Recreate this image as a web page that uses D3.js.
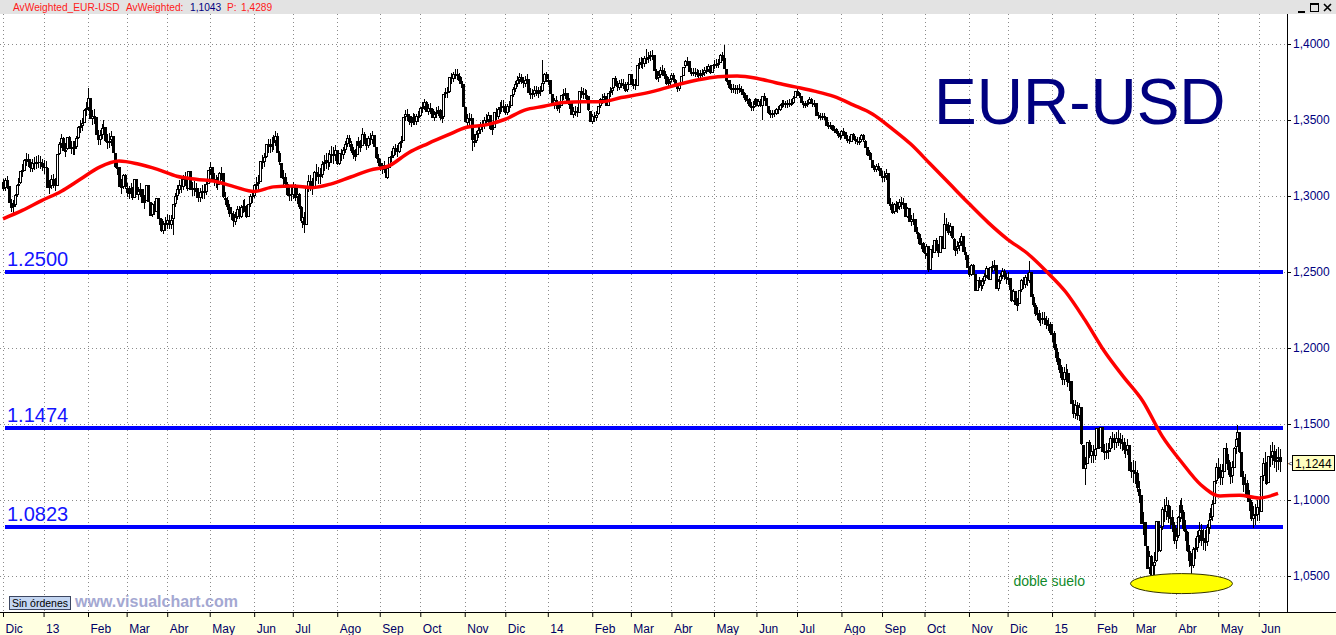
<!DOCTYPE html>
<html>
<head>
<meta charset="utf-8">
<script src="https://cdn.jsdelivr.net/npm/d3@7"></script>
<style>
  body { margin: 0; background: #fff; overflow: hidden; }
  svg { display: block; font-family: "Liberation Sans", Arial, sans-serif; }
</style>
</head>
<body>
<svg id="chart" width="1336" height="635"></svg>
<script>
// first trading day shown, every weekday afterwards is one bar
const firstDay = '2012-12-03';
const firstOpen = 1.3095;

// daily closes, one row per month
const closes = [
  1.3050,1.3105,1.3068,1.2955,1.2925,1.2940,1.3005,1.3070,1.3082,1.3162,1.3168,1.3240,1.3245,1.3222,1.3183,1.3220,1.3212,1.3226,1.3222,1.3216,1.3192,
  1.3190,1.3185,1.3052,1.3068,1.3115,1.3082,1.3070,1.3278,1.3345,1.3382,1.3298,1.3305,1.3385,1.3318,1.3322,1.3312,1.3322,1.3380,1.3455,1.3460,1.3482,1.3568,1.3578,
  1.3645,1.3510,1.3528,1.3518,1.3402,1.3366,1.3402,1.3448,1.3452,1.3358,1.3362,1.3365,1.3392,1.3282,1.3188,1.3192,1.3062,1.3058,1.3135,1.3055,
  1.3020,1.3025,1.3050,1.2985,1.3110,1.3005,1.3030,1.3045,1.2955,1.2970,1.3075,1.2960,1.2870,1.2945,1.2895,1.2990,1.2855,1.2850,1.2770,1.2815,1.2820,
  1.2845,1.2815,1.2845,1.2945,1.3000,1.3045,1.3075,1.3065,1.3115,1.3110,1.3045,1.3165,1.3040,1.3050,1.3050,1.3025,1.2985,1.3025,1.3030,1.3030,1.3080,1.3170,
  1.3190,1.3110,1.3110,1.3085,1.3075,1.3150,1.3150,1.2990,1.2975,1.2930,1.2885,1.2880,1.2835,1.2865,1.2915,1.2865,1.2930,1.2935,1.2935,1.2860,1.2945,1.3000,1.2995,
  1.3070,1.3080,1.3095,1.3230,1.3220,1.3255,1.3340,1.3320,1.3335,1.3345,1.3360,1.3395,1.3280,1.3220,1.3120,1.3125,1.3080,1.3010,1.3015,1.3010,
  1.3060,1.2990,1.3010,1.2925,1.2830,1.2865,1.2810,1.3060,1.3100,1.3070,1.3055,1.3160,1.3145,1.3125,1.3140,1.3210,1.3225,1.3235,1.3215,1.3275,1.3270,1.3265,1.3300,
  1.3205,1.3280,1.3265,1.3300,1.3340,1.3380,1.3345,1.3300,1.3265,1.3270,1.3365,1.3330,1.3330,1.3410,1.3355,1.3330,1.3380,1.3370,1.3400,1.3320,1.3250,1.3220,
  1.3190,1.3175,1.3205,1.3120,1.3185,1.3255,1.3265,1.3315,1.3300,1.3290,1.3350,1.3360,1.3520,1.3540,1.3525,1.3485,1.3495,1.3520,1.3485,1.3525,1.3525,
  1.3580,1.3585,1.3620,1.3555,1.3580,1.3575,1.3515,1.3540,1.3555,1.3565,1.3510,1.3520,1.3670,1.3685,1.3680,1.3780,1.3765,1.3800,1.3805,1.3790,1.3755,1.3735,1.3585,
  1.3485,1.3515,1.3495,1.3510,1.3365,1.3365,1.3410,1.3435,1.3460,1.3465,1.3500,1.3500,1.3530,1.3435,1.3450,1.3555,1.3520,1.3575,1.3585,1.3595,1.3590,
  1.3545,1.3590,1.3590,1.3665,1.3705,1.3740,1.3765,1.3785,1.3755,1.3740,1.3765,1.3770,1.3680,1.3665,1.3675,1.3700,1.3680,1.3685,1.3695,1.3745,1.3800,1.3765,
  1.3765,1.3670,1.3590,1.3630,1.3615,1.3575,1.3590,1.3665,1.3670,1.3675,1.3605,1.3615,1.3535,1.3560,1.3560,1.3545,1.3690,1.3675,1.3675,1.3665,1.3655,1.3560,1.3485,
  1.3525,1.3515,1.3535,1.3590,1.3635,1.3640,1.3655,1.3590,1.3675,1.3690,1.3710,1.3775,1.3735,1.3715,1.3745,1.3735,1.3740,1.3695,1.3735,1.3805,
  1.3735,1.3740,1.3730,1.3865,1.3875,1.3880,1.3865,1.3905,1.3905,1.3915,1.3925,1.3930,1.3825,1.3775,1.3795,1.3830,1.3825,1.3790,1.3740,1.3750,1.3770,
  1.3795,1.3765,1.3720,1.3705,1.3730,1.3790,1.3850,1.3885,1.3885,1.3815,1.3815,1.3815,1.3810,1.3810,1.3795,1.3805,1.3810,1.3830,1.3830,1.3855,1.3810,1.3865,
  1.3870,1.3870,1.3875,1.3930,1.3910,1.3835,1.3755,1.3760,1.3705,1.3710,1.3710,1.3695,1.3710,1.3705,1.3685,1.3665,1.3630,1.3635,1.3590,1.3590,1.3595,1.3635,
  1.3595,1.3625,1.3595,1.3660,1.3645,1.3590,1.3545,1.3535,1.3545,1.3540,1.3570,1.3565,1.3600,1.3610,1.3605,1.3600,1.3610,1.3615,1.3615,1.3645,1.3690,
  1.3675,1.3655,1.3610,1.3595,1.3605,1.3615,1.3640,1.3610,1.3605,1.3615,1.3530,1.3525,1.3525,1.3525,1.3520,1.3460,1.3465,1.3465,1.3430,1.3440,1.3415,1.3395,1.3390,
  1.3425,1.3420,1.3375,1.3375,1.3360,1.3410,1.3375,1.3365,1.3360,1.3365,1.3400,1.3365,1.3320,1.3265,1.3285,1.3240,1.3190,1.3170,1.3195,1.3185,1.3130,
  1.3130,1.3130,1.3150,1.2945,1.2950,1.2890,1.2945,1.2920,1.2925,1.2960,1.2950,1.2955,1.2860,1.2920,1.2830,1.2850,1.2850,1.2765,1.2750,1.2685,1.2690,1.2630,
  1.2620,1.2670,1.2515,1.2650,1.2625,1.2710,1.2655,1.2625,1.2735,1.2650,1.2815,1.2810,1.2760,1.2800,1.2720,1.2645,1.2650,1.2670,1.2695,1.2735,1.2630,1.2610,1.2525,
  1.2480,1.2545,1.2485,1.2375,1.2450,1.2415,1.2410,1.2440,1.2475,1.2525,1.2450,1.2535,1.2540,1.2545,1.2390,1.2440,1.2475,1.2505,1.2465,1.2450,
  1.2460,1.2380,1.2310,1.2375,1.2285,1.2290,1.2380,1.2445,1.2410,1.2465,1.2440,1.2500,1.2335,1.2285,1.2225,1.2230,1.2180,1.2195,1.2200,1.2185,1.2155,1.2160,1.2100,
  1.2100,1.2000,1.1935,1.1890,1.1840,1.1790,1.1840,1.1835,1.1775,1.1780,1.1630,1.1565,1.1625,1.1550,1.1610,1.1365,1.1205,1.1235,1.1380,1.1290,1.1320,1.1290,
  1.1335,1.1475,1.1340,1.1480,1.1315,1.1320,1.1320,1.1330,1.1405,1.1385,1.1375,1.1410,1.1400,1.1375,1.1380,1.1325,1.1335,1.1365,1.1195,1.1195,
  1.1185,1.1175,1.1075,1.1030,1.0840,1.0855,1.0700,1.0550,1.0630,1.0495,1.0570,1.0595,1.0860,1.0660,1.0820,1.0940,1.0920,1.0965,1.0885,1.0890,1.0835,1.0730,
  1.0760,1.0885,1.0970,1.0920,1.0810,1.0790,1.0665,1.0600,1.0565,1.0680,1.0685,1.0765,1.0805,1.0735,1.0750,1.0720,1.0820,1.0870,1.0890,1.0975,1.1125,1.1220,
  1.1195,1.1145,1.1190,1.1345,1.1265,1.1200,1.1155,1.1215,1.1345,1.1400,1.1445,1.1315,1.1150,1.1095,1.1110,1.1010,1.0985,1.0875,1.0900,1.0905,1.0955,
  1.0925,1.1160,1.1245,1.1240,1.1110,1.1290,1.1290,1.1320,1.1255,1.1265,1.1280,1.1244
];

// typical daily high-low range of each month (wick length)
const monthRanges = [0.0085,0.0090,0.0100,0.0090,0.0095,0.0085,0.0095,0.0110,0.0080,0.0075,0.0070,0.0080,
  0.0070,0.0070,0.0065,0.0070,0.0055,0.0060,0.0050,0.0045,0.0050,0.0075,0.0085,0.0075,
  0.0085,0.0120,0.0105,0.0150,0.0140,0.0140,0.0150];

// long wicks that stand out
const spikeDates = ['2013-02-01','2013-04-04','2013-05-17','2013-06-19','2013-07-09','2013-08-20','2013-10-25',
  '2013-11-07','2013-12-27','2014-02-03','2014-03-13','2014-05-08','2014-06-05','2014-10-03','2014-10-15',
  '2014-12-16','2015-01-26','2015-03-16','2015-04-13','2015-05-15','2015-05-27'];
const spikeValues = [1.3711,1.2745,1.2795,1.3415,1.2755,1.3450,1.3832,1.3295,1.3893,1.3477,1.3967,1.3993,1.3503,
  1.2500,1.2885,1.2570,1.1098,1.0462,1.0520,1.1467,1.0819];

// weighted average, one reading every 10 bars
const maStep = 10;
const maValues = [
  1.2850,1.2905,1.2970,1.3030,1.3110,1.3190,1.3230,1.3210,1.3175,1.3130,1.3110,1.3095,1.3060,1.3030,1.3060,1.3066,1.3055,
  1.3080,1.3125,1.3170,1.3200,1.3285,1.3345,1.3400,1.3452,1.3468,1.3505,1.3565,1.3590,1.3615,1.3620,1.3620,1.3648,
  1.3670,1.3700,1.3735,1.3765,1.3785,1.3790,1.3775,1.3745,1.3718,1.3690,1.3655,1.3600,1.3540,1.3445,1.3340,1.3210,
  1.3080,1.2950,1.2825,1.2715,1.2625,1.2505,1.2370,1.2185,1.1980,1.1810,1.1650,1.1420,1.1250,1.1100,1.1026,1.1032,
  1.1013,1.1043
];

const levels = [1.2500, 1.1474, 1.0823];
const levelLabels = ['1.2500', '1.1474', '1.0823'];
const priceTicks = [1.05, 1.10, 1.15, 1.20, 1.25, 1.30, 1.35, 1.40];
const monthLabels = ['Dic','13','Feb','Mar','Abr','May','Jun','Jul','Ago','Sep','Oct','Nov',
  'Dic','14','Feb','Mar','Abr','May','Jun','Jul','Ago','Sep','Oct','Nov',
  'Dic','15','Feb','Mar','Abr','May','Jun'];
const lastPrice = 1.1244;
const avgValue = 1.1043;
const pValue = 1.4289;
const noteDate = '2014-12-04', noteValue = 1.0434;
const circleDate = '2015-04-06', circleValue = 1.0450;

const W = 1336, H = 635;
const plotRight = 1287, plotTop = 14, plotBottom = 612;

const svg = d3.select('#chart');
const es = d3.formatLocale({ decimal: ',', thousands: '.', grouping: [3], currency: ['', ''] });
const fmt4 = es.format('.4f');
const dayKey = d3.timeFormat('%Y-%m-%d');

// trading days (weekdays)
const start = d3.timeParse('%Y-%m-%d')(firstDay);
const dates = d3.timeDays(start, d3.timeDay.offset(start, 1200))
  .filter(d => d.getDay() !== 0 && d.getDay() !== 6)
  .slice(0, closes.length);
const indexOf = new Map(dates.map((d, i) => [dayKey(d), i]));
const monthStarts = dates.map((d, i) => i).filter(i => i === 0 || dates[i].getMonth() !== dates[i - 1].getMonth());
const monthOfBar = dates.map((d, i) => d3.bisectRight(monthStarts, i) - 1);

const x = d3.scaleLinear().domain([0, closes.length - 1]).range([3, 1280]);
const y = d3.scaleLinear().domain([1.05, 1.40]).range([576, 44]);

// backgrounds
svg.append('rect').attr('width', W).attr('height', H).attr('fill', '#fff');
svg.append('rect').attr('width', W).attr('height', plotTop).attr('fill', '#e3e3e3');
svg.append('rect').attr('x', 0).attr('y', plotBottom).attr('width', W).attr('height', H - plotBottom).attr('fill', '#ffffe1');

svg.append('defs').append('clipPath').attr('id', 'plot')
  .append('rect').attr('x', 0).attr('y', plotTop).attr('width', plotRight).attr('height', plotBottom - plotTop);

const plot = svg.append('g').attr('clip-path', 'url(#plot)');

// dotted grid
plot.append('g').selectAll('line').data(priceTicks).join('line')
  .attr('x1', 0).attr('x2', plotRight)
  .attr('y1', d => Math.round(y(d)) + 0.5).attr('y2', d => Math.round(y(d)) + 0.5)
  .attr('stroke', '#8a8a8a').attr('stroke-dasharray', '1,3');
plot.append('g').selectAll('line').data(monthStarts).join('line')
  .attr('x1', d => Math.round(x(d)) + 0.5).attr('x2', d => Math.round(x(d)) + 0.5)
  .attr('y1', plotTop).attr('y2', plotBottom)
  .attr('stroke', '#8a8a8a').attr('stroke-dasharray', '1,3');

// support / resistance levels
plot.append('g').selectAll('line').data(levels).join('line')
  .attr('x1', 5).attr('x2', 1283)
  .attr('y1', d => y(d)).attr('y2', d => y(d))
  .attr('stroke', '#0000ff').attr('stroke-width', 4);
plot.append('g').selectAll('text').data(levels).join('text')
  .attr('x', 7).attr('y', d => y(d) - 6)
  .attr('font-size', 20).attr('fill', '#1414ff')
  .text((d, i) => levelLabels[i]);

// candles
const bars = closes.map((c, i) => {
  const o = i ? closes[i - 1] : firstOpen;
  const mid = (o + c) / 2, r = monthRanges[monthOfBar[i]] / 2;
  return { i, o, c, hi: Math.max(o, c, mid + r), lo: Math.min(o, c, mid - r) };
});
spikeDates.forEach((s, k) => {
  const b = bars[indexOf.get(s)];
  if (!b) return;
  if (spikeValues[k] > b.hi) b.hi = spikeValues[k];
  if (spikeValues[k] < b.lo) b.lo = spikeValues[k];
});
const cg = plot.append('g').attr('shape-rendering', 'crispEdges');
cg.selectAll('line').data(bars).join('line')
  .attr('x1', b => Math.round(x(b.i)) + 0.5).attr('x2', b => Math.round(x(b.i)) + 0.5)
  .attr('y1', b => y(b.hi)).attr('y2', b => y(b.lo))
  .attr('stroke', '#000');
bars.forEach(b => {
  const X = Math.round(x(b.i));
  const top = Math.round(y(Math.max(b.o, b.c)));
  const h = Math.max(1, Math.round(Math.abs(y(b.o) - y(b.c))));
  if (b.c >= b.o) {
    cg.append('rect').attr('x', X - 0.5).attr('y', top + 0.5)
      .attr('width', 2).attr('height', Math.max(1, h - 1))
      .attr('fill', '#fff').attr('stroke', '#000');
  } else {
    cg.append('rect').attr('x', X - 1).attr('y', top)
      .attr('width', 3).attr('height', h).attr('fill', '#000');
  }
});

// weighted moving average
const ma = d3.line()
  .x((d, k) => x(k * maStep))
  .y(d => y(d))
  .curve(d3.curveMonotoneX);
plot.append('path').datum(maValues)
  .attr('d', ma).attr('fill', 'none')
  .attr('stroke', '#ff0000').attr('stroke-width', 3.5).attr('stroke-linejoin', 'round');

// title
plot.append('text').attr('x', 934).attr('y', 124)
  .attr('font-size', 64).attr('fill', '#000080').text('EUR-USD');

// double bottom note
const ci = indexOf.get(circleDate);
plot.append('ellipse').attr('cx', x(ci)).attr('cy', y(circleValue))
  .attr('rx', 51).attr('ry', 10).attr('fill', '#ffff00').attr('stroke', '#333300').attr('stroke-width', 1);
plot.append('text').attr('x', x(indexOf.get(noteDate))).attr('y', y(noteValue))
  .attr('font-size', 14).attr('fill', '#118a2a').text('doble suelo');

// footer inside plot
plot.append('rect').attr('x', 9.5).attr('y', 596.5).attr('width', 61).attr('height', 13)
  .attr('fill', '#c4d6f2').attr('stroke', '#3c4660');
plot.append('text').attr('x', 12).attr('y', 607).attr('font-size', 10.5).attr('fill', '#000').text('Sin órdenes');
plot.append('text').attr('x', 75).attr('y', 607).attr('font-size', 16).attr('font-weight', 'bold')
  .attr('fill', '#a4a8d2').text('www.visualchart.com');

// right price axis
const yAxis = svg.append('g').attr('transform', `translate(${plotRight},0)`)
  .call(d3.axisRight(y).tickValues(priceTicks).tickSize(4).tickPadding(2).tickFormat(fmt4));
yAxis.select('.domain').remove();
yAxis.selectAll('line').attr('stroke', '#000');
yAxis.selectAll('text').attr('font-size', 12).attr('fill', '#000080')
  .attr('font-family', '"Liberation Sans", Arial, sans-serif');
svg.append('line').attr('x1', plotRight + 0.5).attr('x2', plotRight + 0.5)
  .attr('y1', plotTop).attr('y2', plotBottom).attr('stroke', '#000');

// bottom time axis
const xAxis = svg.append('g').attr('transform', `translate(0,${plotBottom})`)
  .call(d3.axisBottom(x).tickValues(monthStarts).tickSize(5).tickFormat((d, k) => monthLabels[k]));
xAxis.select('.domain').remove();
xAxis.selectAll('line').attr('stroke', '#000');
xAxis.selectAll('text').attr('text-anchor', 'start').attr('x', 2).attr('y', 12).attr('dy', '0.71em')
  .attr('font-size', 12).attr('fill', '#000066')
  .attr('font-family', '"Liberation Sans", Arial, sans-serif');
svg.append('line').attr('x1', 0).attr('x2', W).attr('y1', plotBottom + 0.5).attr('y2', plotBottom + 0.5).attr('stroke', '#000');

// last price marker
const ly = Math.round(y(lastPrice));
svg.append('text').attr('x', 1288).attr('y', ly + 3).attr('font-size', 8).attr('fill', '#000').text('<');
svg.append('rect').attr('x', 1292.5).attr('y', ly - 7.5).attr('width', 42).attr('height', 15)
  .attr('fill', '#ffffc0').attr('stroke', '#000');
svg.append('text').attr('x', 1295).attr('y', ly + 4.5).attr('font-size', 12).attr('fill', '#000').text(fmt4(lastPrice));

// header line
const head = svg.append('text').attr('y', 11).attr('font-size', 10.2);
head.append('tspan').attr('x', 13).attr('fill', '#ff1a1a').text('AvWeighted_EUR-USD');
head.append('tspan').attr('x', 126).attr('fill', '#ff1a1a').text('AvWeighted:');
head.append('tspan').attr('x', 190).attr('fill', '#000080').text(fmt4(avgValue));
head.append('tspan').attr('x', 227).attr('fill', '#ff1a1a').text('P:');
head.append('tspan').attr('x', 241).attr('fill', '#ff1a1a').text(fmt4(pValue));

// window buttons
const wb = svg.append('g').attr('stroke', '#000').attr('fill', 'none').attr('shape-rendering', 'crispEdges');
wb.append('line').attr('x1', 1298).attr('x2', 1305).attr('y1', 11.5).attr('y2', 11.5).attr('stroke-width', 2);
wb.append('rect').attr('x', 1310.5).attr('y', 3.5).attr('width', 8).attr('height', 8);
wb.append('line').attr('x1', 1310.5).attr('x2', 1318.5).attr('y1', 4.5).attr('y2', 4.5);
svg.append('path').attr('d', 'M1324,4 L1331,11 M1331,4 L1324,11')
  .attr('stroke', '#000').attr('stroke-width', 1.6);
</script>
</body>
</html>
